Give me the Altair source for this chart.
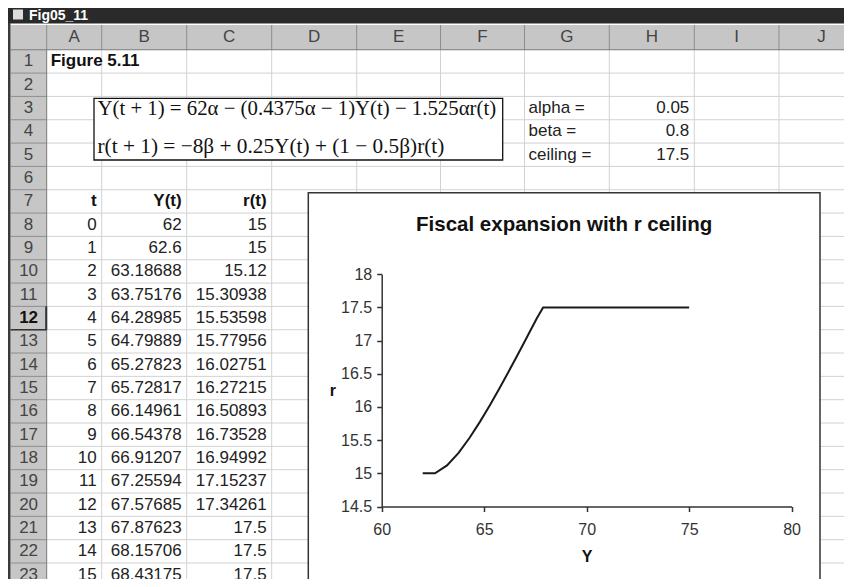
import altair as alt
import pandas as pd

# ---------------- data ----------------
t_vals = [0, 1, 2, 3, 4, 5, 6, 7, 8, 9, 10, 11, 12, 13, 14, 15]
Y_vals = [62, 62.6, 63.18688, 63.75176, 64.28985, 64.79889, 65.27823, 65.72817,
          66.14961, 66.54378, 66.91207, 67.25594, 67.57685, 67.87623, 68.15706, 68.43175]
r_vals = [15, 15, 15.12, 15.30938, 15.53598, 15.77956, 16.02751, 16.27215,
          16.50893, 16.73528, 16.94992, 17.15237, 17.34261, 17.5, 17.5, 17.5]
# rows below the visible part of the sheet: the plotted line stays on the ceiling up to Y ~ 75
t_more = [16]
Y_more = [75.0]
r_more = [17.5]

col_letters = ["A", "B", "C", "D", "E", "F", "G", "H", "I", "J"]
row_numbers = list(range(1, 24))
window_title = "Fig05_11"
sheet_title = "Figure 5.11"
table_headers = ["t", "Y(t)", "r(t)"]
param_names = ["alpha =", "beta =", "ceiling ="]
param_values = [0.05, 0.8, 17.5]
eq_lines = ["Y(t + 1) = 62α − (0.4375α − 1)Y(t) − 1.525αr(t)",
            "r(t + 1) = −8β + 0.25Y(t) + (1 − 0.5β)r(t)"]
chart_title = "Fiscal expansion with r ceiling"
x_title, y_title = "Y", "r"
x_ticks = [60, 65, 70, 75, 80]
y_ticks = [14.5, 15, 15.5, 16, 16.5, 17, 17.5, 18]
selected_row = 12

# ---------------- layout (page pixels) ----------------
W, H = 836, 571
ORG = 8
SANS = "Liberation Sans"
SERIF = "Liberation Serif"
COL_EDGES = [10.5, 46.7, 101.7, 186.7, 271.7, 356.7, 440.5, 524.5, 609.3, 694.3, 779, 864]
HEAD_TOP, HEAD_BOT, ROW_H = 25, 49.75, 23.33
PAD = 5
ROW_BOUNDS = [HEAD_BOT + k * ROW_H for k in range(25)]
def row_c(r):
    return HEAD_BOT + (r - 0.5) * ROW_H

CHART_BOX = (308.3, 192.7, 820, 600)
PLOT_X = (381.7, 791.6)
PLOT_Y = (506.5, 274.3)
EQ_BOX = (94, 98.3, 502.7, 160)

SX = alt.Scale(domain=[ORG, ORG + W], range=[0, W], nice=False, zero=False)
SY = alt.Scale(domain=[ORG, ORG + H], range=[0, H], nice=False, zero=False)

def enc_xy(ch, x2=True):
    e = dict(x=alt.X("x:Q", scale=SX, axis=None), y=alt.Y("y:Q", scale=SY, axis=None))
    if x2:
        e["x2"] = alt.X2("x2:Q")
        e["y2"] = alt.Y2("y2:Q")
    return ch.encode(**e)

def rects(rows):
    df = pd.DataFrame(rows, columns=["x", "x2", "y", "y2", "fill", "stroke", "sw"])
    return enc_xy(alt.Chart(df).mark_rect()).encode(
        fill=alt.Fill("fill:N", scale=None),
        stroke=alt.Stroke("stroke:N", scale=None),
        strokeWidth=alt.StrokeWidth("sw:Q", scale=None))

def rules(rows):
    df = pd.DataFrame(rows, columns=["x", "x2", "y", "y2", "c", "w"])
    return enc_xy(alt.Chart(df).mark_rule()).encode(
        color=alt.Color("c:N", scale=None),
        strokeWidth=alt.StrokeWidth("w:Q", scale=None))

def texts(rows, align, weight="normal", size=17, color="#111", font=SANS):
    df = pd.DataFrame(rows, columns=["x", "y", "text"])
    return enc_xy(alt.Chart(df).mark_text(align=align, baseline="middle", fontWeight=weight,
                                          fontSize=size, color=color, font=font), x2=False).encode(
        text="text:N")

def fmt(v):
    return str(v)

HDR = "#c6c6c6"
layers = []
# backgrounds
layers.append(rects([
    (ORG, 864, HEAD_TOP, 600, "white", "transparent", 0),
    (COL_EDGES[0], 864, HEAD_TOP, HEAD_BOT, HDR, "transparent", 0),
    (COL_EDGES[0], COL_EDGES[1], HEAD_BOT, 600, HDR, "transparent", 0),
    (ORG, 864, 4, 23.5, "#2a2a2a", "transparent", 0),
    (13, 23, 9.5, 19.5, "#dcdcdc", "transparent", 0),
    (ORG, COL_EDGES[0], 23, 600, "#3a3a3a", "transparent", 0),
]))
# grid lines
g = []
for e in COL_EDGES[2:]:
    g.append((e, e, HEAD_BOT, 600, "#d2d2d2", 1))
for b in ROW_BOUNDS[1:]:
    g.append((COL_EDGES[1], 864, b, b, "#d2d2d2", 1))
for e in COL_EDGES[1:]:
    g.append((e, e, HEAD_TOP, HEAD_BOT, "#8e8e8e", 1))
for b in ROW_BOUNDS[1:]:
    g.append((COL_EDGES[0], COL_EDGES[1], b, b, "#8e8e8e", 1))
g.append((COL_EDGES[0], 864, HEAD_BOT, HEAD_BOT, "#7a7a7a", 1))
g.append((COL_EDGES[1], COL_EDGES[1], HEAD_BOT, 600, "#7a7a7a", 1))
# selected row header
sb = ROW_BOUNDS[selected_row]
g.append((COL_EDGES[0], COL_EDGES[1], sb, sb, "#333", 1.5))
g.append((COL_EDGES[1] - 0.5, COL_EDGES[1] - 0.5, ROW_BOUNDS[selected_row - 1], sb, "#333", 2))
layers.append(rules(g))

# header labels
col_centers = [(COL_EDGES[i + 1] + COL_EDGES[i + 2]) / 2 for i in range(len(col_letters))]
layers.append(texts([(c, (HEAD_TOP + HEAD_BOT) / 2, l) for c, l in zip(col_centers, col_letters)],
                    "center", color="#444"))
rc = (COL_EDGES[0] + COL_EDGES[1]) / 2
layers.append(texts([(rc, row_c(r), str(r)) for r in row_numbers if r != selected_row],
                    "center", color="#444"))
layers.append(texts([(rc, row_c(selected_row), str(selected_row))], "center", weight="bold", color="#111"))
layers.append(texts([(29, 15.5, window_title)], "left", weight="bold", size=14, color="white"))

# cell contents
A_R, B_R, C_R = COL_EDGES[2] - PAD, COL_EDGES[3] - PAD, COL_EDGES[4] - PAD
G_L, H_R = COL_EDGES[7] + 4, COL_EDGES[9] - PAD
layers.append(texts([(COL_EDGES[1] + 4, row_c(1), sheet_title)], "left", weight="bold"))
layers.append(texts([(x, row_c(7), h) for x, h in zip([A_R, B_R, C_R], table_headers)],
                    "right", weight="bold"))
cells = []
for i, (t, yv, rv) in enumerate(zip(t_vals, Y_vals, r_vals)):
    rr = 8 + i
    cells += [(A_R, row_c(rr), fmt(t)), (B_R, row_c(rr), fmt(yv)), (C_R, row_c(rr), fmt(rv))]
for i, v in enumerate(param_values):
    cells.append((H_R, row_c(3 + i), fmt(v)))
layers.append(texts(cells, "right", color="#222"))
layers.append(texts([(G_L, row_c(3 + i), n) for i, n in enumerate(param_names)], "left", color="#222"))

# equation object
layers.append(rects([(EQ_BOX[0], EQ_BOX[2], EQ_BOX[1], EQ_BOX[3], "white", "#111", 1.3)]))
layers.append(texts([(EQ_BOX[0] + 3.5, 109, eq_lines[0])], "left", size=20.8, color="#111", font=SERIF))
layers.append(texts([(EQ_BOX[0] + 3.5, 147, eq_lines[1])], "left", size=21.3, color="#111", font=SERIF))

# chart object frame and title
layers.append(rects([(CHART_BOX[0], CHART_BOX[2], CHART_BOX[1], CHART_BOX[3], "white", "#333", 1.5)]))
layers.append(texts([((CHART_BOX[0] + CHART_BOX[2]) / 2, 225, chart_title)], "center",
                    weight="bold", size=20.5, color="#111"))

sheet = alt.layer(*layers)

# ---------------- the embedded XY chart ----------------
line_df = pd.DataFrame({"t": t_vals + t_more, "Y": Y_vals + Y_more, "r": r_vals + r_more})
xr = [PLOT_X[0] - ORG, PLOT_X[1] - ORG]
yr = [PLOT_Y[0] - ORG, PLOT_Y[1] - ORG]
axis_common = dict(grid=False, domainColor="#333", domainWidth=1.5, tickColor="#333", tickWidth=1.5,
                   tickSize=5, labelFont=SANS, labelFontSize=16, labelColor="#333",
                   titleFont=SANS, titleFontSize=16, titleFontWeight="bold", titleColor="#111",
                   labelOverlap=False, zindex=2)
plot = alt.Chart(line_df).mark_line(color="#1a1a1a", strokeWidth=2).encode(
    x=alt.X("Y:Q", scale=alt.Scale(domain=[60, 80], range=xr, nice=False, zero=False),
            axis=alt.Axis(orient="bottom", offset=-(H - yr[0]), values=x_ticks, format="~g",
                          title=x_title, labelFlush=False, labelPadding=10,
                          titleY=50, titleBaseline="middle", **axis_common)),
    y=alt.Y("r:Q", scale=alt.Scale(domain=[14.5, 18], range=yr, nice=False, zero=False),
            axis=alt.Axis(orient="left", offset=-xr[0], values=y_ticks, format="~g",
                          title=y_title, labelPadding=5, titleAngle=0, titleAlign="center",
                          titleBaseline="middle", titleX=332.3 - PLOT_X[0], titleY=390 - ORG,
                          **axis_common)),
    order="t:Q")

chart = alt.layer(sheet, plot).resolve_scale(x="independent", y="independent").properties(
    width=W, height=H, padding=0, autosize=alt.AutoSizeParams(type="none"), background="white"
).configure_view(stroke=None)

chart.save("out.html", embed_options={"renderer": "svg", "actions": False})
